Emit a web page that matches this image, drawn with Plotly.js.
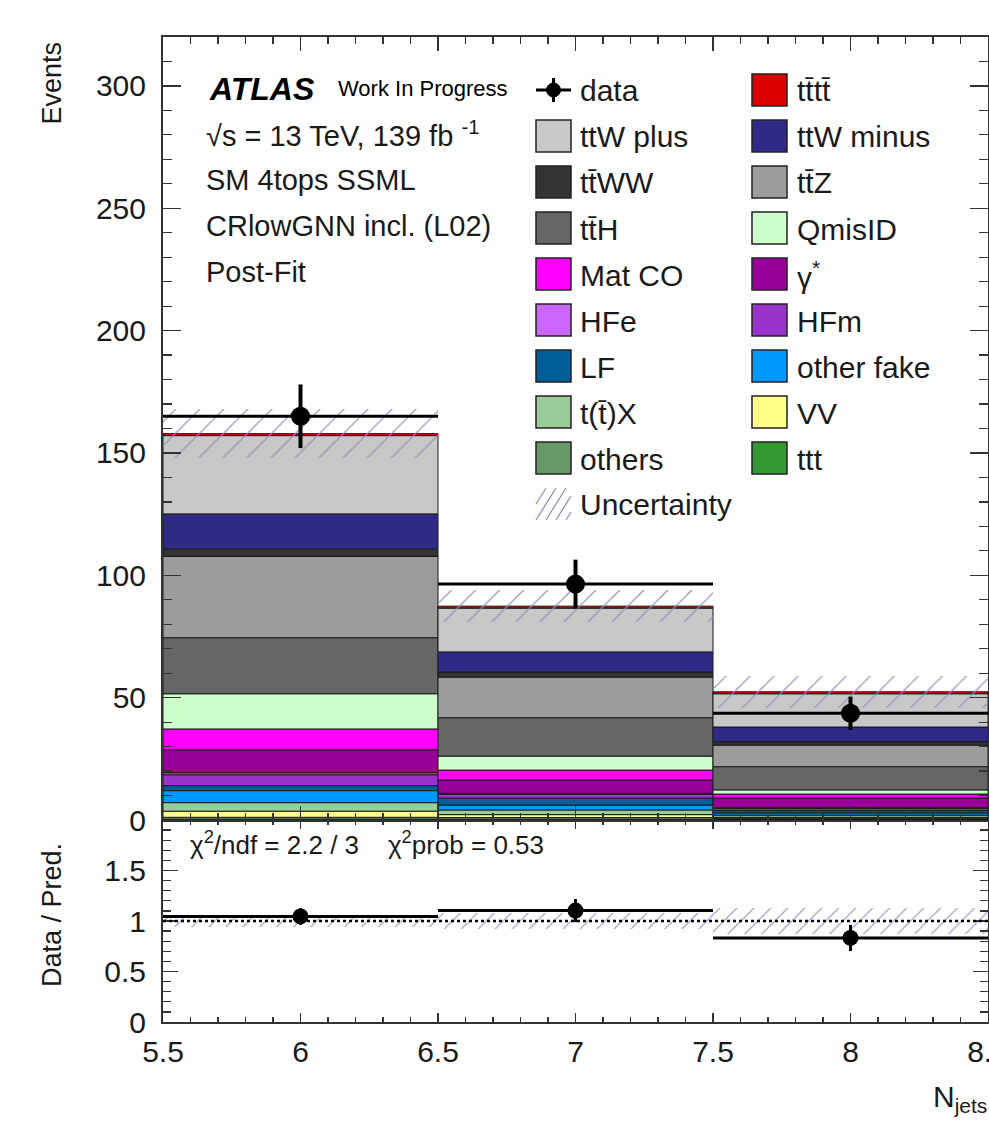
<!DOCTYPE html>
<html>
<head>
<meta charset="utf-8">
<script src="https://cdn.plot.ly/plotly-3.0.1.min.js"></script>
<style>
  html, body { margin: 0; padding: 0; background: #ffffff; }
  #chart { width: 989px; height: 1125px; }
</style>
</head>
<body>
<div id="chart"></div>
<script>
// ---------------- DATA ----------------
const bins = [6, 7, 8];                       // N_jets bin centres
const xTickVals = [5.5, 6, 6.5, 7, 7.5, 8, 8.5];
const xTickText = ['5.5', '6', '6.5', '7', '7.5', '8', '8.5'];
const yMainTickVals = [0, 50, 100, 150, 200, 250, 300];
const yRatioTickVals = [0, 0.5, 1, 1.5];
const yRatioTickText = ['0', '0.5', '1', '1.5'];

const dataVals = [165.0, 96.4, 43.6];
const dataErr  = [13.0, 10.0, 6.8];
const uncert   = [10.0, 6.5, 6.5];          // total prediction uncertainty

// background / signal yields per bin (post-fit)
const tttt      = [0.8, 0.8, 0.8];
const ttWplus   = [32.0, 17.9, 13.6];
const ttWminus  = [14.4, 8.2, 6.0];
const ttWW      = [3.0, 2.1, 1.4];
const ttZ       = [33.2, 16.6, 8.8];
const ttH       = [22.9, 15.7, 9.5];
const qmisID    = [14.4, 5.7, 1.7];
const matCO     = [8.5, 4.1, 1.6];
const gammaStar = [9.4, 5.4, 4.0];
const HFe       = [0.8, 0.4, 0.3];
const HFm       = [4.5, 1.6, 0.8];
const LF        = [2.0, 2.8, 1.0];
const otherFake = [4.9, 2.0, 0.9];
const ttX       = [3.5, 1.9, 0.9];
const VV        = [2.5, 1.2, 0.4];
const others    = [0.8, 0.7, 0.5];
const ttt       = [0.3, 0.3, 0.2];

// legend order (top of stack first)
const procNames = ['tt\u0304tt\u0304', 'ttW plus', 'ttW minus', 'tt\u0304WW', 'tt\u0304Z', 'tt\u0304H',
  'QmisID', 'Mat CO', '\u03b3<sup>*</sup>', 'HFe', 'HFm', 'LF', 'other fake', 't(t\u0304)X', 'VV', 'others', 'ttt'];
const procVals = [tttt, ttWplus, ttWminus, ttWW, ttZ, ttH, qmisID, matCO, gammaStar, HFe, HFm, LF,
  otherFake, ttX, VV, others, ttt];
const procColors = ['#dd0000', '#c8c8c8', '#2e2a85', '#333333', '#9c9c9c', '#666666', '#ccffcc',
  '#ff00ff', '#990099', '#cc66ff', '#9933cc', '#005f99', '#0099ff', '#99cc99', '#ffff88', '#669966', '#339933'];

// ---------------- GEOMETRY ----------------
const W = 989, H = 1125;
const mL = 163, mR = 1, mT = 37, mB = 103;
const plotW = W - mL - mR, plotH = H - mT - mB;
const splitPx = 820;                                  // boundary main/ratio
const ratioTop = (H - mB - splitPx) / plotH;         // domain split
const px2x = px => (px - mL) / plotW;
const py2y = py => (H - mB - py) / plotH;

const FONT = 'Liberation Sans, Arial, Helvetica, sans-serif';
const TXT = '#1a1a1a';
const HATCH = '#9090bb';

// ---------------- TRACES ----------------
const traces = [];
const nBins = bins.length;
const cum = new Array(nBins).fill(0);
// stack from bottom (last in legend order) to top
for (let k = procVals.length - 1; k >= 0; k--) {
  const base = cum.slice();
  traces.push({
    type: 'bar', x: bins, y: procVals[k], base: base, width: 1,
    xaxis: 'x2', yaxis: 'y2', name: procNames[k], showlegend: false,
    marker: { color: procColors[k], line: { color: '#1a1a1a', width: 1 } },
    hoverinfo: 'name+y'
  });
  for (let i = 0; i < nBins; i++) cum[i] += procVals[k][i];
}
const total = cum.slice();

// uncertainty hatch on main panel
traces.push({
  type: 'bar', x: bins, base: total.map((t, i) => t - uncert[i]), y: uncert.map(u => 2 * u), width: 1,
  xaxis: 'x2', yaxis: 'y2', showlegend: false, hoverinfo: 'skip',
  marker: { color: 'rgba(0,0,0,0)', line: { width: 0 },
    pattern: { shape: '/', fillmode: 'overlay', fgcolor: HATCH, fgopacity: 1, size: 17, solidity: 0.07 } }
});

// data on main panel
traces.push({
  type: 'scatter', mode: 'markers', x: bins, y: dataVals, xaxis: 'x2', yaxis: 'y2', showlegend: false,
  marker: { color: '#000', size: 19, symbol: 'circle' },
  error_x: { type: 'constant', value: 0.5, thickness: 3, width: 0, color: '#000' },
  error_y: { type: 'data', array: dataErr, thickness: 4, width: 0, color: '#000' }
});

// ratio band
const ratioUnc = uncert.map((u, i) => u / total[i]);
traces.push({
  type: 'bar', x: bins, base: ratioUnc.map(r => 1 - r), y: ratioUnc.map(r => 2 * r), width: 1,
  xaxis: 'x', yaxis: 'y', showlegend: false, hoverinfo: 'skip',
  marker: { color: 'rgba(0,0,0,0)', line: { width: 0 },
    pattern: { shape: '/', fillmode: 'overlay', fgcolor: HATCH, fgopacity: 1, size: 12, solidity: 0.09 } }
});
// ratio data
traces.push({
  type: 'scatter', mode: 'markers', x: bins, y: dataVals.map((d, i) => d / total[i]),
  xaxis: 'x', yaxis: 'y', showlegend: false,
  marker: { color: '#000', size: 16, symbol: 'circle' },
  error_x: { type: 'constant', value: 0.5, thickness: 3, width: 0, color: '#000' },
  error_y: { type: 'data', array: dataErr.map((e, i) => e / total[i]), thickness: 3, width: 0, color: '#000' }
});

// ---------------- LAYOUT ----------------
const axisCommon = {
  showline: true, linecolor: '#333', linewidth: 2, mirror: 'allticks',
  ticks: 'inside', tickcolor: '#333', tickwidth: 1.5, showgrid: false, zeroline: false,
  tickfont: { family: FONT, size: 30, color: TXT }
};

const shapes = [];
const annotations = [];

// dotted line at unity in the ratio panel
shapes.push({ type: 'line', xref: 'x', yref: 'y', x0: xTickVals[0], x1: xTickVals[xTickVals.length - 1],
  y0: 1, y1: 1, line: { color: '#000', width: 2.5, dash: 'dot' } });

// ---- text block ----
const textLeft = 207;
annotations.push({ xref: 'paper', yref: 'paper', x: px2x(textLeft), y: py2y(89), xanchor: 'left', yanchor: 'middle',
  text: '<b><i>ATLAS</i></b>', showarrow: false, font: { family: FONT, size: 32, color: '#000' } });
annotations.push({ xref: 'paper', yref: 'paper', x: px2x(336), y: py2y(89), xanchor: 'left', yanchor: 'middle',
  text: 'Work In Progress', showarrow: false, font: { family: FONT, size: 22, color: '#000' } });
const infoLines = ['\u221As = 13 TeV, 139 fb <sup>-1</sup>', 'SM 4tops SSML', 'CRlowGNN incl. (L02)', 'Post-Fit'];
infoLines.forEach((t, i) => {
  annotations.push({ xref: 'paper', yref: 'paper', x: px2x(textLeft - 3), y: py2y(134 + i * 46), xanchor: 'left',
    yanchor: 'middle', text: t, showarrow: false, font: { family: FONT, size: 29, color: TXT } });
});

// ---- manual legend (two columns, row-major) ----
const legNames = ['data'].concat(procNames).concat(['Uncertainty']);
const legRowY = r => 90 + r * 46;
const swX = [536, 752], swW = 35, swH = 32, txtX = [578, 795];
legNames.forEach((nm, i) => {
  const r = Math.floor(i / 2), c = i % 2;
  const cy = legRowY(r), x0 = swX[c];
  if (nm === 'data') {
    shapes.push({ type: 'line', xref: 'paper', yref: 'paper', x0: px2x(x0), x1: px2x(x0 + swW),
      y0: py2y(cy), y1: py2y(cy), line: { color: '#000', width: 3 } });
    shapes.push({ type: 'line', xref: 'paper', yref: 'paper', x0: px2x(x0 + swW / 2), x1: px2x(x0 + swW / 2),
      y0: py2y(cy - 12), y1: py2y(cy + 12), line: { color: '#000', width: 3 } });
    shapes.push({ type: 'circle', xref: 'paper', yref: 'paper', x0: px2x(x0 + swW / 2 - 7), x1: px2x(x0 + swW / 2 + 7),
      y0: py2y(cy - 7), y1: py2y(cy + 7), fillcolor: '#000', line: { color: '#000', width: 1 } });
  } else if (nm === 'Uncertainty') {
    for (let h = -2; h < 4; h++) {
      const xa = x0 + h * 10, xb = xa + 20;
      const cx0 = Math.max(xa, x0), cx1 = Math.min(xb, x0 + swW);
      if (cx1 <= cx0) continue;
      const ya = cy + swH / 2 - (cx0 - xa) * swH / 20, yb = cy + swH / 2 - (cx1 - xa) * swH / 20;
      shapes.push({ type: 'line', xref: 'paper', yref: 'paper', x0: px2x(cx0), x1: px2x(cx1),
        y0: py2y(Math.min(ya, cy + swH / 2)), y1: py2y(Math.max(yb, cy - swH / 2)), line: { color: HATCH, width: 1.3 } });
    }
  } else {
    const k = i - 1;
    shapes.push({ type: 'rect', xref: 'paper', yref: 'paper', x0: px2x(x0), x1: px2x(x0 + swW),
      y0: py2y(cy + swH / 2), y1: py2y(cy - swH / 2), fillcolor: procColors[k], line: { color: '#222', width: 1.5 } });
  }
  annotations.push({ xref: 'paper', yref: 'paper', x: px2x(txtX[c]), y: py2y(cy + 1), xanchor: 'left', yanchor: 'middle',
    text: nm, showarrow: false, font: { family: FONT, size: 30, color: TXT } });
});

// chi2 text in ratio panel
annotations.push({ xref: 'paper', yref: 'paper', x: px2x(188), y: py2y(843), xanchor: 'left', yanchor: 'middle',
  text: '\u03c7<sup>2</sup>/ndf = 2.2 / 3    \u03c7<sup>2</sup>prob = 0.53', showarrow: false,
  font: { family: FONT, size: 26, color: TXT } });

// axis titles
annotations.push({ xref: 'paper', yref: 'paper', x: px2x(52), y: py2y(40), xanchor: 'center', yanchor: 'top',
  text: 'Events', textangle: -90, showarrow: false, font: { family: FONT, size: 27, color: TXT } });
annotations.push({ xref: 'paper', yref: 'paper', x: px2x(52), y: py2y(915), xanchor: 'center', yanchor: 'middle',
  text: 'Data / Pred.', textangle: -90, showarrow: false, font: { family: FONT, size: 27, color: TXT } });
annotations.push({ xref: 'paper', yref: 'paper', x: px2x(989), y: py2y(1098), xanchor: 'right', yanchor: 'middle',
  text: 'N<sub>jets</sub>', showarrow: false, font: { family: FONT, size: 30, color: TXT } });

const layout = {
  width: W, height: H,
  margin: { l: mL, r: mR, t: mT, b: mB, pad: 0 },
  paper_bgcolor: '#ffffff', plot_bgcolor: '#ffffff',
  barmode: 'overlay', bargap: 0, showlegend: false,
  font: { family: FONT, color: TXT },
  xaxis: Object.assign({}, axisCommon, {
    domain: [0, 1], anchor: 'y', range: [5.5, 8.5], ticklabeloverflow: 'allow',
    tickmode: 'array', tickvals: xTickVals, ticktext: xTickText, ticklen: 9, ticklabelstandoff: 2,
    minor: { dtick: 0.1, ticks: 'inside', ticklen: 5, tickcolor: '#333', tickwidth: 1.2 }
  }),
  yaxis: Object.assign({}, axisCommon, {
    domain: [0, ratioTop], anchor: 'x', range: [0, 2],
    tickmode: 'array', tickvals: yRatioTickVals, ticktext: yRatioTickText, ticklen: 15, ticklabelstandoff: 9,
    minor: { dtick: 0.1, ticks: 'inside', ticklen: 8, tickcolor: '#333', tickwidth: 1.2 }
  }),
  xaxis2: Object.assign({}, axisCommon, {
    domain: [0, 1], anchor: 'y2', range: [5.5, 8.5], matches: 'x', showticklabels: false,
    tickmode: 'array', tickvals: xTickVals, ticklen: 14,
    minor: { dtick: 0.1, ticks: 'inside', ticklen: 7, tickcolor: '#333', tickwidth: 1.2 }
  }),
  yaxis2: Object.assign({}, axisCommon, {
    domain: [ratioTop, 1], anchor: 'x2', range: [0, 320],
    tickmode: 'array', tickvals: yMainTickVals, ticklen: 18, ticklabelstandoff: 9,
    minor: { dtick: 10, ticks: 'inside', ticklen: 9, tickcolor: '#333', tickwidth: 1.2 }
  }),
  shapes: shapes,
  annotations: annotations
};

Plotly.newPlot('chart', traces, layout, { staticPlot: true, displayModeBar: false });
</script>
</body>
</html>
